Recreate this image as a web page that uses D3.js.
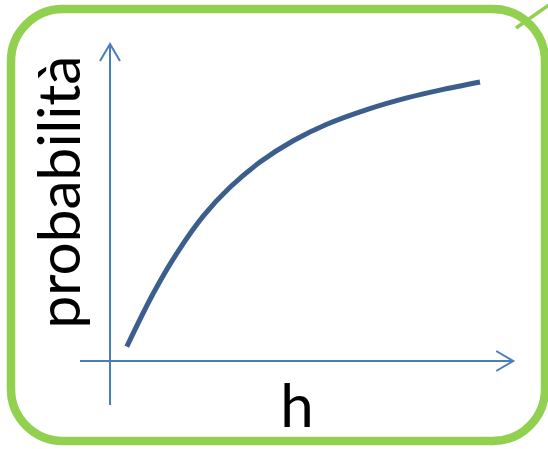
<!DOCTYPE html>
<html><head><meta charset="utf-8">
<script src="https://cdn.jsdelivr.net/npm/d3@7"></script>
<style>html,body{margin:0;padding:0;background:#fff;}svg{display:block;}</style>
</head><body>
<svg id="c" width="548" height="449"></svg>
<script>
// data
const hValues = [0.42, 1.08, 1.67, 2.33, 3.0, 3.75, 4.58, 5.42, 6.42, 7.42, 8.25, 9.25];
const pValues = [0.048, 0.225, 0.359, 0.483, 0.579, 0.663, 0.734, 0.789, 0.838, 0.877, 0.903, 0.930];
const xLabel = "h";
const yLabel = "probabilità";

const svg = d3.select("#c");
const x = d3.scaleLinear().domain([0, 10]).range([110, 510]);
const y = d3.scaleLinear().domain([0, 1]).range([361, 61]);

// green rounded frame
svg.append("rect").attr("x", 11).attr("y", 9).attr("width", 534).attr("height", 432)
  .attr("rx", 52).attr("ry", 52).attr("fill", "none")
  .attr("stroke", "#92D050").attr("stroke-width", 8.5);
svg.append("line").attr("x1", 516).attr("y1", 28).attr("x2", 549).attr("y2", 5)
  .attr("stroke", "#92D050").attr("stroke-width", 3.5);

const axisColor = "#4A7EBB";
const g = svg.append("g").attr("stroke", axisColor).attr("stroke-width", 2).attr("fill", "none");
// x axis
const xa0 = x(-0.75), xa1 = x(10.08), ya = y(0);
g.append("line").attr("x1", xa0).attr("y1", ya).attr("x2", xa1).attr("y2", ya);
g.append("path").attr("d", `M${xa1-17},${ya-10}L${xa1},${ya}L${xa1-17},${ya+10}`);
// y axis
const yb0 = y(-0.147), yb1 = y(1.057), xb = x(0);
g.append("line").attr("x1", xb).attr("y1", yb0).attr("x2", xb).attr("y2", yb1);
g.append("path").attr("d", `M${xb-10},${yb1+17}L${xb},${yb1}L${xb+10},${yb1+17}`);

// curve
const pts = hValues.map((h, i) => [h, pValues[i]]);
const line = d3.line().x(d => x(d[0])).y(d => y(d[1])).curve(d3.curveCatmullRom.alpha(0.5));
svg.append("path").datum(pts).attr("d", line).attr("fill", "none")
  .attr("stroke", "#3B5E8C").attr("stroke-width", 5);

// labels
const font = "Lato, 'Open Sans', sans-serif";
svg.append("text").attr("x", 297).attr("y", 427).attr("text-anchor", "middle")
  .attr("font-family", font).attr("font-size", 60).attr("fill", "#000").text(xLabel);
const yt = svg.append("text").attr("transform", "translate(80,192) rotate(-90)")
  .attr("text-anchor", "middle").attr("font-family", font).attr("font-size", 60)
  .attr("fill", "#000").text(yLabel);
const w = yt.node().getComputedTextLength();
yt.attr("font-size", 60 * 273 / w);
</script>
</body></html>
